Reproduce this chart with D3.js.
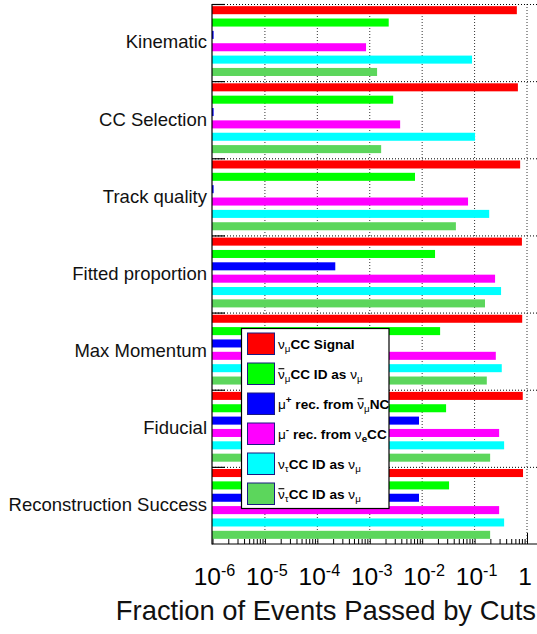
<!DOCTYPE html>
<html>
<head>
<meta charset="utf-8">
<script src="https://cdn.jsdelivr.net/npm/d3@7"></script>
<style>
body { margin: 0; background: #fff; }
svg { display: block; font-family: "Liberation Sans", Arial, Helvetica, sans-serif; }
</style>
</head>
<body>
<svg id="chart" width="537" height="634"></svg>
<script>
/*--- Data ---*/
const categories = ["Kinematic", "CC Selection", "Track quality", "Fitted proportion",
                    "Max Momentum", "Fiducial", "Reconstruction Success"];

const seriesLabels = [
    "#nu_{#mu}CC Signal",
    "#bar{#nu}_{#mu}CC ID as #nu_{#mu}",
    "#mu^{+} rec. from #bar{#nu}_{#mu}NC",
    "#mu^{-} rec. from #nu_{e}CC",
    "#nu_{#tau}CC ID as #nu_{#mu}",
    "#bar{#nu}_{#tau}CC ID as #nu_{#mu}"
];
const seriesColors = ["#ff0000", "#00ff00", "#0000ff", "#ff00ff", "#00ffff", "#5cd65c"];

// fraction of events passed, one value per cut (top to bottom)
const numuSignal   = [0.64, 0.67, 0.74, 0.80, 0.81, 0.83, 0.84];
const numubarCC    = [2.3e-3, 2.8e-3, 7.3e-3, 0.0176, 0.022, 0.0286, 0.0326];
const muPlusNC     = [1.05e-6, 1.05e-6, 1.05e-6, 2.2e-4, 1.2e-3, 8.7e-3, 8.7e-3];
const muMinusNueCC = [8.5e-4, 3.8e-3, 0.075, 0.246, 0.254, 0.294, 0.294];
const nutauCC      = [0.0895, 0.102, 0.19, 0.32, 0.33, 0.366, 0.366];
const nutaubarCC   = [1.38e-3, 1.65e-3, 0.044, 0.158, 0.171, 0.198, 0.198];
const seriesValues = [numuSignal, numubarCC, muPlusNC, muMinusNueCC, nutauCC, nutaubarCC];

const xTickValues = [1e-6, 1e-5, 1e-4, 1e-3, 1e-2, 1e-1, 1];
const xTickLabels = ["10^{-6}", "10^{-5}", "10^{-4}", "10^{-3}", "10^{-2}", "10^{-1}", "1"];
const xTitle = "Fraction of Events Passed by Cuts";

/*--- Layout ---*/
const svg = d3.select("#chart");
const frameLeft = 212, frameTop = 4, frameBottom = 544, frameRight = 537;

const x = d3.scaleLog().domain([1e-6, 1]).range([212.5, 527]);
const y = d3.scaleBand().domain(categories).range([frameTop, frameBottom]);
const yInner = d3.scaleBand().domain(d3.range(seriesValues.length))
    .range([0, y.bandwidth() - 3])
    .paddingInner(0.35).paddingOuter(0.175);

/*--- Helpers ---*/
// tiny ROOT-ish latex: #nu #mu #tau, #bar{..}, _{..}, ^{..}
function parseLabel(str) {
    const s = str.replace(/#nu/g, "ν").replace(/#mu/g, "μ").replace(/#tau/g, "τ");
    const parts = [];
    let i = 0;
    while (i < s.length) {
        const m = s.slice(i).match(/^(#bar|_|\^)\{([^}]*)\}/);
        if (m) {
            parts.push({t: m[2], kind: m[1] === "#bar" ? "bar" : (m[1] === "_" ? "sub" : "sup")});
            i += m[0].length;
        } else {
            let j = i;
            while (j < s.length && !/[#_^]/.test(s[j])) j++;
            if (j === i) j = i + 1;
            parts.push({t: s.slice(i, j), kind: "n"});
            i = j;
        }
    }
    return parts;
}

function drawRich(g, str, px, py, size, weight, opts) {
    opts = opts || {};
    const text = g.append("text")
        .attr("x", px).attr("y", py)
        .attr("font-size", size)
        .attr("font-weight", weight)
        .attr("text-anchor", opts.anchor || "start")
        .attr("fill", "#000");
    let shift = 0, idx = 0;
    const bars = [];
    parseLabel(str).forEach(p => {
        const small = p.kind === "sub" || p.kind === "sup";
        const target = p.kind === "sub" ? size * 0.28 : (p.kind === "sup" ? -size * (opts.supRaise || 0.4) : 0);
        p.t.split(/([νμτ])/).filter(Boolean).forEach(chunk => {
            const ts = text.append("tspan").text(chunk)
                .attr("dy", target - shift)
                .attr("font-size", small ? size * (opts.smallScale || 0.7) : size);
            if (/[νμτ]/.test(chunk)) ts.attr("font-weight", "normal");
            shift = target;
            if (p.kind === "bar") bars.push(idx);
            idx += chunk.length;
        });
    });
    bars.forEach(ci => {
        const b = text.node().getExtentOfChar(ci);
        g.append("line")
            .attr("x1", b.x + 0.5).attr("x2", b.x + b.width - 0.5)
            .attr("y1", py - size * 0.72).attr("y2", py - size * 0.72)
            .attr("stroke", "#000").attr("stroke-width", 1.1);
    });
    return text;
}

/*--- Grid ---*/
const grid = svg.append("g");
grid.selectAll("line.vgrid")
    .data(xTickValues.slice(1))
    .join("line").attr("class", "vgrid")
    .attr("x1", d => x(d)).attr("x2", d => x(d))
    .attr("y1", frameTop).attr("y2", frameBottom)
    .attr("stroke", "#333").attr("stroke-width", 1)
    .attr("stroke-dasharray", "1,2");

grid.selectAll("line.hgrid")
    .data(categories)
    .join("line").attr("class", "hgrid")
    .attr("x1", frameLeft).attr("x2", frameRight)
    .attr("y1", d => y(d) + 0.5).attr("y2", d => y(d) + 0.5)
    .attr("stroke", "#000").attr("stroke-width", 1)
    .attr("stroke-dasharray", "1,2");

// left tick marks at cut boundaries
grid.selectAll("line.ytick")
    .data(categories)
    .join("line").attr("class", "ytick")
    .attr("x1", frameLeft).attr("x2", frameLeft + 13)
    .attr("y1", d => y(d) + 0.5).attr("y2", d => y(d) + 0.5)
    .attr("stroke", "#000").attr("stroke-width", 1.2);

/*--- X axis ticks ---*/
const minorAxis = d3.axisBottom(x)
    .tickValues(x.ticks().filter(d => !xTickValues.includes(d)))
    .tickSizeInner(-5).tickSizeOuter(0).tickFormat("");
const majorAxis = d3.axisBottom(x)
    .tickValues(xTickValues)
    .tickSizeInner(-11).tickSizeOuter(0).tickFormat("");

[minorAxis, majorAxis].forEach(ax => {
    const g = svg.append("g")
        .attr("transform", `translate(0,${frameBottom})`)
        .call(ax);
    g.select(".domain").remove();
    g.selectAll(".tick line").attr("stroke", "#000").attr("stroke-width", 1);
});

/*--- Bars ---*/
seriesValues.forEach((vals, si) => {
    svg.append("g").selectAll("rect")
        .data(vals)
        .join("rect")
        .attr("x", x(1e-6) - 0.5)
        .attr("y", (d, i) => y(categories[i]) + yInner(si))
        .attr("width", d => Math.max(0, x(d) - x(1e-6) + 0.5))
        .attr("height", yInner.bandwidth())
        .attr("fill", seriesColors[si]);
});

/*--- Frame ---*/
svg.append("line")
    .attr("x1", frameLeft).attr("x2", frameLeft)
    .attr("y1", frameTop).attr("y2", frameBottom + 0.5)
    .attr("stroke", "#000").attr("stroke-width", 1.2);
svg.append("line")
    .attr("x1", frameLeft).attr("x2", frameRight)
    .attr("y1", frameBottom).attr("y2", frameBottom)
    .attr("stroke", "#000").attr("stroke-width", 1.2);

/*--- Y labels ---*/
const yAxis = svg.append("g")
    .attr("transform", `translate(${frameLeft},0)`)
    .call(d3.axisLeft(y).tickSize(0).tickPadding(5));
yAxis.select(".domain").remove();
yAxis.selectAll(".tick text")
    .attr("font-size", 18.5)
    .attr("font-family", "\"Liberation Sans\", Arial, Helvetica, sans-serif")
    .attr("fill", "#111");

/*--- X labels ---*/
const xLabels = svg.append("g");
xTickValues.forEach((v, i) => {
    drawRich(xLabels, xTickLabels[i], x(v) + (i === 6 ? -2 : 2), 585, 24.5, "normal",
             {anchor: "middle", smallScale: 0.66, supRaise: 0.36});
});
svg.append("text")
    .attr("x", 536).attr("y", 620)
    .attr("text-anchor", "end")
    .attr("font-size", 27.4)
    .attr("fill", "#111")
    .text(xTitle);

/*--- Legend ---*/
const legend = svg.append("g");
legend.append("rect")
    .attr("x", 241.5).attr("y", 328.5)
    .attr("width", 147.5).attr("height", 180)
    .attr("fill", "#fff")
    .attr("stroke", "#000").attr("stroke-width", 1.2);

seriesLabels.forEach((lab, i) => {
    const top = 333 + i * 30;
    legend.append("rect")
        .attr("x", 247.5).attr("y", top)
        .attr("width", 27).attr("height", 21.5)
        .attr("fill", seriesColors[i])
        .attr("stroke", "#1a1a80").attr("stroke-width", 1);
    drawRich(legend, lab, 278, top + 15.5, 13.6, "bold", {smallScale: 0.72, supRaise: 0.4});
});
</script>
</body>
</html>
